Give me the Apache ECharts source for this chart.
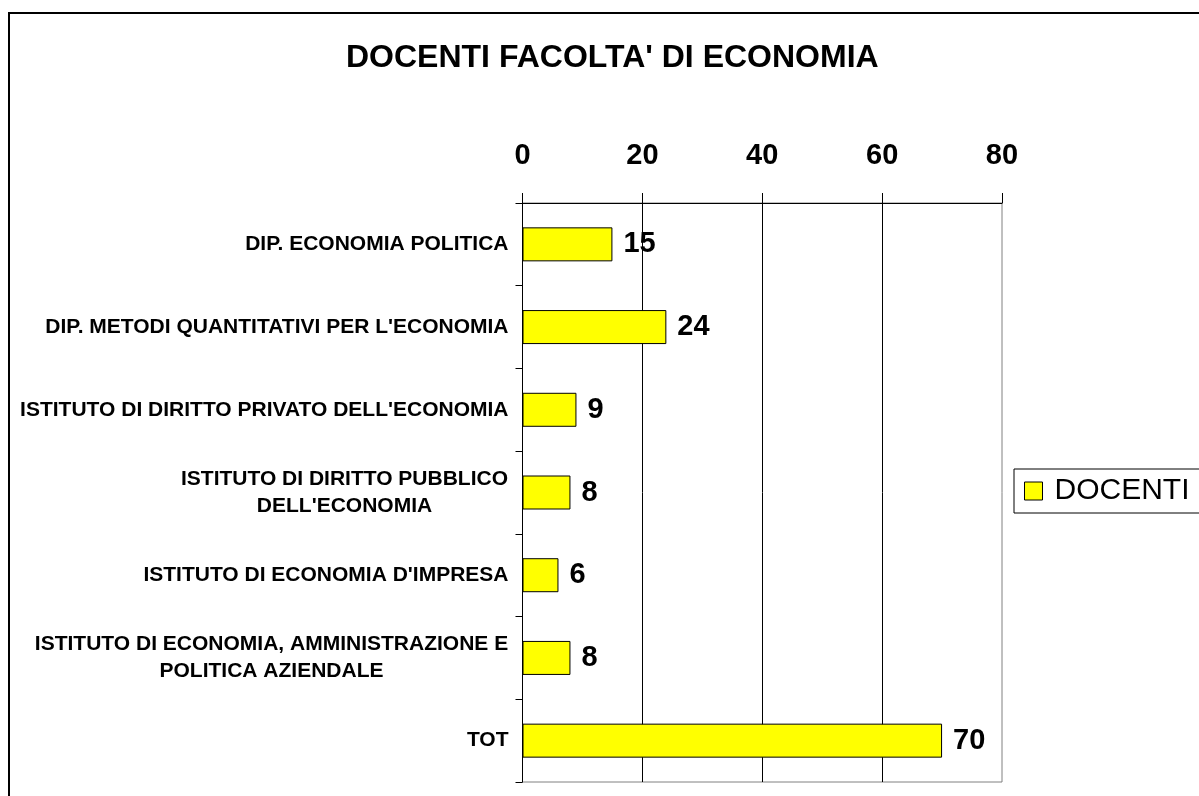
<!DOCTYPE html>
<html>
<head>
<meta charset="utf-8">
<script src="https://cdn.jsdelivr.net/npm/echarts@6/dist/echarts.min.js"></script>
<style>
  html, body { margin: 0; padding: 0; background: #fff; }
  #chart { width: 1199px; height: 796px; }
</style>
</head>
<body>
<div id="chart"></div>
<script>
const FONT = 'Liberation Sans, Arial, sans-serif'

const categories = [
  'DIP. ECONOMIA POLITICA',
  "DIP. METODI QUANTITATIVI PER L'ECONOMIA",
  "ISTITUTO DI DIRITTO PRIVATO DELL'ECONOMIA",
  "ISTITUTO DI DIRITTO PUBBLICO\nDELL'ECONOMIA",
  "ISTITUTO DI ECONOMIA D'IMPRESA",
  'ISTITUTO DI ECONOMIA, AMMINISTRAZIONE E\nPOLITICA AZIENDALE',
  'TOT',
]
const docenti = [15, 24, 9, 8, 6, 8, 70]
const valueTicks = { min: 0, max: 80, interval: 20 }

// multi-line labels are centred on their own longest line
const ctx = document.createElement('canvas').getContext('2d')
ctx.font = `bold 21px ${FONT}`
const rich = {}
categories.forEach((c, i) => {
  if (!c.includes('\n')) return
  const w = Math.max(...c.split('\n').map(l => ctx.measureText(l).width))
  rich['m' + i] = { width: Math.ceil(w), align: 'center', lineHeight: 27, fontSize: 21, fontWeight: 'bold', fontFamily: FONT, color: '#000' }
})

const chart = echarts.init(document.getElementById('chart'))

chart.setOption({
  animation: false,
  backgroundColor: '#fff',
  textStyle: { fontFamily: FONT, color: '#000' },
  graphic: [
    {
      type: 'rect',
      shape: { x: 9, y: 13, width: 1400, height: 1000 },
      style: { fill: 'none', stroke: '#000', lineWidth: 2 },
      silent: true,
    },
  ],
  title: {
    text: "DOCENTI FACOLTA' DI ECONOMIA",
    left: 346,
    top: 42,
    padding: 0,
    textStyle: { fontSize: 32, fontWeight: 'bold', fontFamily: FONT, color: '#000' },
  },
  legend: {
    data: ['DOCENTI'],
    left: 1014,
    top: 469,
    orient: 'vertical',
    padding: [7, 10, 7, 10],
    borderColor: '#000',
    borderWidth: 1,
    backgroundColor: '#fff',
    icon: 'rect',
    itemWidth: 18,
    itemHeight: 18,
    itemStyle: { color: '#FFFF00', borderColor: '#000', borderWidth: 1 },
    textStyle: { fontSize: 30, fontFamily: FONT, color: '#000', padding: [0, 0, 0, 7] },
  },
  grid: {
    left: 522.5,
    right: 197,
    top: 203,
    bottom: 14,
    show: true,
    backgroundColor: '#fff',
    borderColor: '#808080',
    borderWidth: 1,
    containLabel: false,
    outerBoundsMode: 'none',
  },
  xAxis: {
    type: 'value',
    position: 'top',
    min: valueTicks.min,
    max: valueTicks.max,
    interval: valueTicks.interval,
    axisLine: { show: true, lineStyle: { color: '#000', width: 1 } },
    axisTick: { show: true, length: 10, lineStyle: { color: '#000' } },
    axisLabel: { fontSize: 29, fontWeight: 'bold', fontFamily: FONT, color: '#000', margin: 33 },
    splitLine: { show: true, showMaxLine: false, lineStyle: { color: '#000', width: 1 } },
  },
  yAxis: {
    type: 'category',
    inverse: true,
    data: categories,
    axisLine: { show: true, lineStyle: { color: '#000', width: 1 } },
    axisTick: { show: true, length: 7, lineStyle: { color: '#000' } },
    axisLabel: {
      fontSize: 21,
      fontWeight: 'bold',
      fontFamily: FONT,
      color: '#000',
      margin: 14,
      formatter: (value) => {
        if (!value.includes('\n')) return value
        const i = categories.indexOf(value)
        return value.split('\n').map(l => `{m${i}|${l}}`).join('\n')
      },
      rich,
    },
    splitLine: { show: false },
  },
  series: [
    {
      name: 'DOCENTI',
      type: 'bar',
      data: docenti,
      barWidth: 34,
      itemStyle: { color: '#FFFF00', borderColor: '#000', borderWidth: 1 },
      label: {
        show: true,
        position: 'right',
        distance: 11,
        fontSize: 29,
        fontWeight: 'bold',
        fontFamily: FONT,
        color: '#000',
      },
    },
  ],
})
</script>
</body>
</html>
